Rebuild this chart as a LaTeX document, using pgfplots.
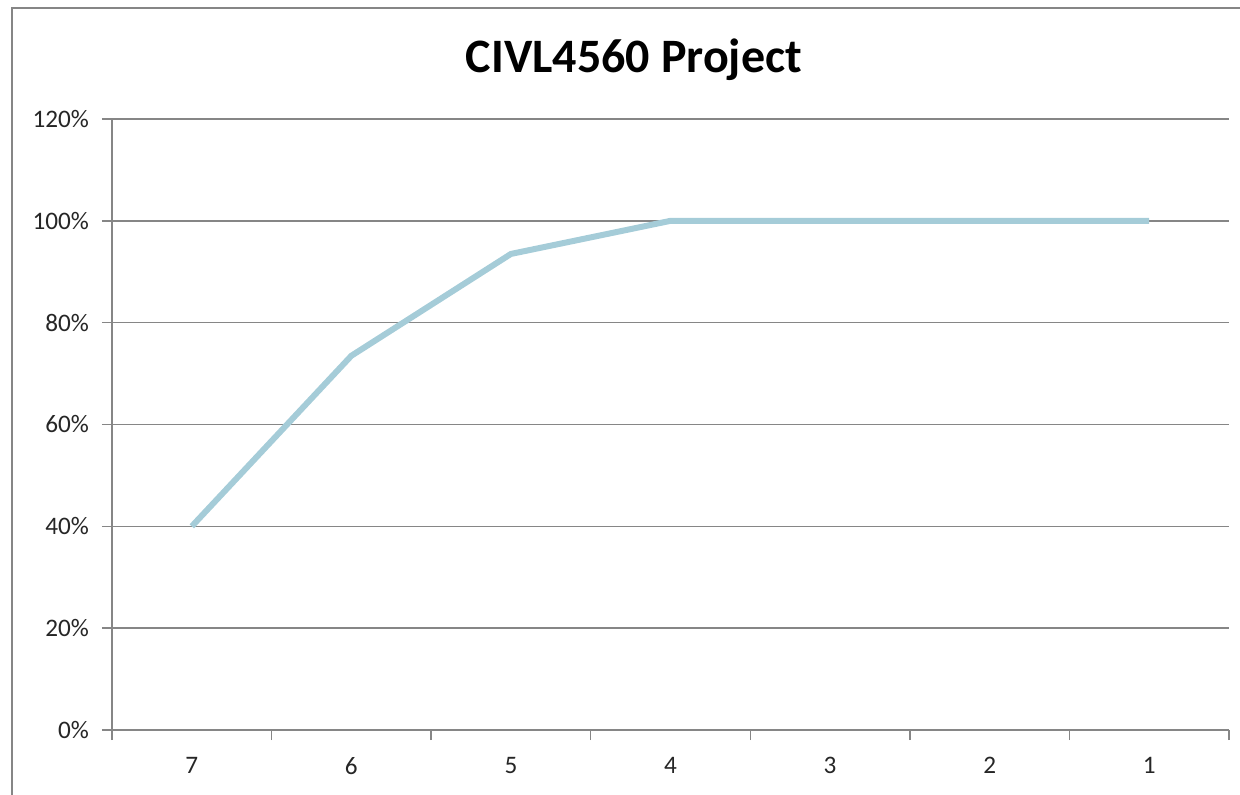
\documentclass[border=0pt]{standalone}
\usepackage{pgfplots}
\pgfplotsset{compat=1.18}
\usepackage{fontspec}
\setmainfont{Carlito}
\definecolor{linecol}{RGB}{165,204,216}
\definecolor{gridcol}{RGB}{134,134,134}
\begin{document}
\begin{tikzpicture}
% whole picture: 1240x794 px at 0.5pt per px, axis origin at px (112,730)
\useasboundingbox (-56pt,-32pt) rectangle (564pt,365pt);
\draw[gridcol, line width=0.6pt] (-50pt,-40pt) -- (-50pt,361pt) -- (570pt,361pt);
\node[font=\fontsize{24}{28}\selectfont\bfseries] at (261pt,335pt) {CIVL4560 Project};
\begin{axis}[
    at={(0pt,0pt)}, anchor=origin,
    scale only axis,
    width=558.5pt, height=305.5pt,
    xmin=0, xmax=7, ymin=0, ymax=120,
    axis x line*=bottom, axis y line*=left,
    axis line style={gridcol, line width=0.75pt},
    xtick={0,1,2,3,4,5,6,7},
    xticklabels={7,6,5,4,3,2,1},
    x tick label as interval=true,
    ytick={0,20,40,60,80,100,120},
    yticklabels={0\%,20\%,40\%,60\%,80\%,100\%,120\%},
    ymajorgrids=true,
    grid style={gridcol, line width=0.75pt},
    tick align=outside,
    major tick length=5pt,
    tick style={gridcol, line width=0.75pt},
    tick label style={font=\fontsize{12.6}{14}\selectfont, text=black!85},
    xticklabel style={yshift=-5pt},
    yticklabel style={xshift=-3pt},
    clip=false,
]
\addplot[linecol, line width=3pt, line join=round] coordinates {
    (0.5,40) (1.5,73.5) (2.5,93.5) (3.5,100) (4.5,100) (5.5,100) (6.5,100)
};
\end{axis}
\end{tikzpicture}
\end{document}
